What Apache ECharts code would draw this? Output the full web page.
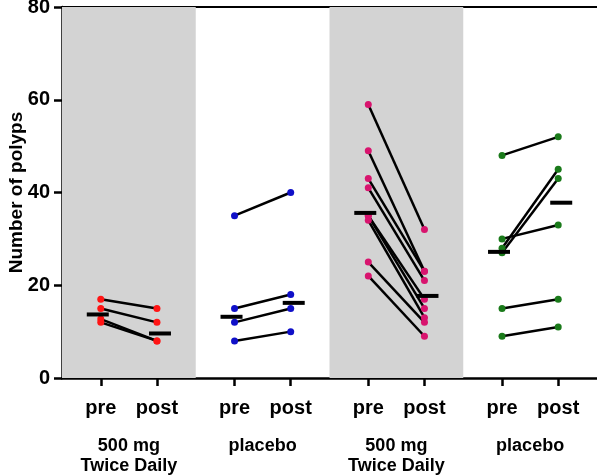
<!DOCTYPE html>
<html>
<head>
<meta charset="utf-8">
<script src="https://cdn.jsdelivr.net/npm/echarts@6/dist/echarts.min.js"></script>
<style>html,body{margin:0;padding:0;background:#fff}#c{width:597px;height:476px}</style>
</head>
<body>
<div id="c"></div>
<script>
// ---- data ----
const groups = ['500 mg\nTwice Daily', 'placebo', '500 mg\nTwice Daily', 'placebo'];
const timepoints = ['pre', 'post'];
const yTicks = [0, 20, 40, 60, 80];

const g1Pre  = [17, 15, 12.7, 12];
const g1Post = [15, 12, 8, 8];
const g2Pre  = [35, 15, 12, 8];
const g2Post = [40, 18, 15, 10];
const g3Pre  = [59, 49, 43, 41, 35, 35, 34, 25, 22];
const g3Post = [32, 23, 23, 21, 17, 15, 13, 12, 9];
const g4Pre  = [48, 30, 28, 27, 15, 9];
const g4Post = [52, 33, 45, 43, 17, 11];

const preMedian  = [13.7, 13.2, 35.6, 27.2];
const postMedian = [9.6, 16.2, 17.7, 37.8];

const groupColors = ['#ff1414', '#1010c8', '#d8146e', '#1a7a1a'];
const shadedGroups = [0, 2];

// ---- layout helpers ----
const GW = 2;          // width of one group on the x value axis
const PRE = 0.58, POST = 1.42, MED_OFF = 0.045;
const xPre  = g => g * GW + PRE;
const xPost = g => g * GW + POST;

const preData  = [g1Pre, g2Pre, g3Pre, g4Pre];
const postData = [g1Post, g2Post, g3Post, g4Post];

const font = 'Liberation Sans, Arial, Helvetica, sans-serif';

const tickValues = [];
const tickNames = {};
groups.forEach((_, g) => {
  tickValues.push(xPre(g), xPost(g));
  tickNames[xPre(g).toFixed(3)] = timepoints[0];
  tickNames[xPost(g).toFixed(3)] = timepoints[1];
});
const groupCenters = groups.map((_, g) => g * GW + GW / 2);

const series = [];
// shaded bands
series.push({
  type: 'line', data: [], z: 0, silent: true,
  markArea: {
    silent: true,
    itemStyle: { color: '#d3d3d3' },
    data: shadedGroups.map(g => [{ xAxis: g * GW }, { xAxis: (g + 1) * GW }])
  }
});
// subject lines
preData.forEach((arr, g) => {
  arr.forEach((v, i) => {
    series.push({
      type: 'line', z: 3, silent: true, animation: false,
      symbol: 'circle', symbolSize: 7, showSymbol: true,
      lineStyle: { color: '#000', width: 2.5 },
      itemStyle: { color: groupColors[g], opacity: 1 },
      data: [[xPre(g), v], [xPost(g), postData[g][i]]]
    });
  });
});
// median bars
series.push({
  type: 'scatter', z: 5, silent: true, animation: false,
  symbol: 'rect', symbolSize: [22, 4],
  itemStyle: { color: '#000', opacity: 1 },
  data: groups.map((_, g) => [xPre(g) - MED_OFF, preMedian[g]])
    .concat(groups.map((_, g) => [xPost(g) + MED_OFF, postMedian[g]]))
});

const option = {
  animation: false,
  grid: { left: 62, right: 0, top: 7, bottom: 98, containLabel: false, outerBoundsMode: 'none' },
  xAxis: [
    {
      type: 'value', min: 0, max: groups.length * GW, position: 'bottom',
      splitLine: { show: false },
      axisLine: { show: true, onZero: false, lineStyle: { color: '#000', width: 2.5 } },
      axisTick: { show: true, customValues: tickValues, length: 8, lineStyle: { color: '#000', width: 2.5 } },
      axisLabel: {
        customValues: tickValues, margin: 20,
        formatter: v => tickNames[Number(v).toFixed(3)] || '',
        fontFamily: font, fontSize: 20, fontWeight: 'bold', color: '#000'
      }
    },
    {
      type: 'value', min: 0, max: groups.length * GW, position: 'bottom',
      splitLine: { show: false },
      axisLine: { show: false, onZero: false },
      axisTick: { show: false },
      axisLabel: {
        customValues: groupCenters, margin: 58,
        formatter: v => groups[Math.round((v - GW / 2) / GW)] || '',
        fontFamily: font, fontSize: 18, fontWeight: 'bold', color: '#000', lineHeight: 20
      }
    },
    {
      type: 'value', min: 0, max: groups.length * GW, position: 'top',
      splitLine: { show: false },
      axisLine: { show: true, onZero: false, lineStyle: { color: '#000', width: 2 } },
      axisTick: { show: false }, axisLabel: { show: false }
    }
  ],
  yAxis: {
    type: 'value', min: yTicks[0], max: yTicks[yTicks.length - 1], interval: yTicks[1] - yTicks[0],
    splitLine: { show: false },
    axisLine: { show: true, onZero: false, lineStyle: { color: '#000', width: 2.5 } },
    axisTick: { show: true, length: 8, lineStyle: { color: '#000', width: 2.5 } },
    axisLabel: { margin: 12, fontFamily: font, fontSize: 20, fontWeight: 'bold', color: '#000' },
    name: 'Number of polyps', nameLocation: 'middle', nameGap: 36, nameMoveOverlap: false,
    nameTextStyle: { fontFamily: font, fontSize: 19, fontWeight: 'bold', color: '#000' }
  },
  series: series
};

const chart = echarts.init(document.getElementById('c'), null, { renderer: 'canvas' });
chart.setOption(option);
</script>
</body>
</html>
